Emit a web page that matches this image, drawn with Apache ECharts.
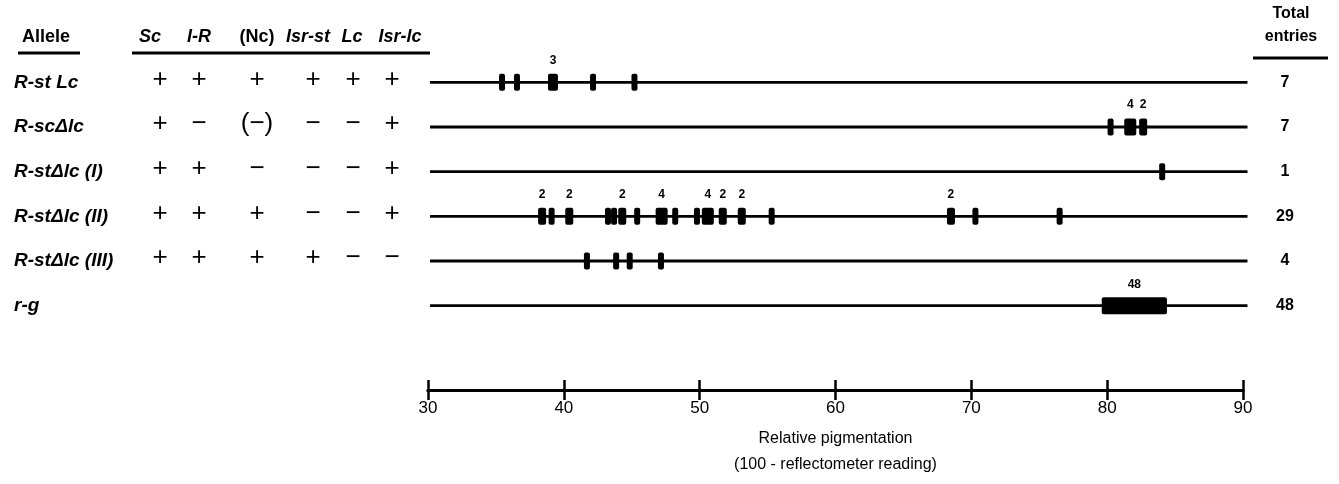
<!DOCTYPE html>
<html>
<head>
<meta charset="utf-8">
<script src="https://cdn.jsdelivr.net/npm/echarts@6/dist/echarts.min.js"></script>
<style>
  html, body { margin: 0; padding: 0; background: #fff; }
  #main { width: 1339px; height: 484px; }
</style>
</head>
<body>
<div id="main"></div>
<script>
// rows, top to bottom
var alleles = ['R-st Lc', 'R-sc\u0394lc', 'R-st\u0394lc (I)', 'R-st\u0394lc (II)', 'R-st\u0394lc (III)', 'r-g'];
var totals = ['7', '7', '1', '29', '4', '48'];

// table of components
var components = ['Sc', 'I-R', '(Nc)', 'Isr-st', 'Lc', 'Isr-lc'];
var componentItalic = [true, true, false, true, true, true];
var M = '\u2212';
var signs = [
  ['+', '+', '+', '+', '+', '+'],
  ['+', M, '(' + M + ')', M, M, '+'],
  ['+', '+', M, M, M, '+'],
  ['+', '+', '+', M, M, '+'],
  ['+', '+', '+', '+', M, M],
  []
];

// pigmentation of the entries: [value, number of entries]
var rowStLc = [[35.45, 1], [36.55, 1], [39.2, 3], [42.15, 1], [45.2, 1]];
var rowScDlc = [[80.25, 1], [81.7, 4], [82.65, 2]];
var rowStDlcI = [[84.05, 1]];
var rowStDlcII = [[38.4, 2], [39.1, 1], [40.4, 2], [43.25, 1], [43.7, 1], [44.3, 2], [45.4, 1],
  [47.2, 4], [48.2, 1], [49.8, 1], [50.6, 4], [51.7, 2], [53.1, 2], [55.3, 1],
  [68.5, 2], [70.3, 1], [76.5, 1]];
var rowStDlcIII = [[41.7, 1], [43.85, 1], [44.85, 1], [47.15, 1]];
// r-g: one block [from, to, entries]
var rowRg = [79.6, 84.4, 48];

var xMin = 30, xMax = 90, xStep = 10;

var FONT = 'Liberation Sans';
var lineFrom = 30.15, lineTo = 90.33;   // row line extent
var colX = [160, 199, 257, 313, 353, 392];
var headX = [150, 199, 257, 308, 352, 400];

var markRows = [rowStLc, rowScDlc, rowStDlcI, rowStDlcII, rowStDlcIII, []];
var markData = [];
markRows.forEach(function (row, r) {
  row.forEach(function (m) { markData.push([m[0], r, m[1]]); });
});
var lineData = alleles.map(function (a, i) { return [lineFrom, i]; });

function renderLine(params, api) {
  var a = api.coord([api.value(0), api.value(1)]);
  var b = api.coord([lineTo, api.value(1)]);
  return {
    type: 'line',
    shape: { x1: a[0], y1: a[1], x2: b[0], y2: b[1] },
    style: { stroke: '#000', lineWidth: 2.8 }
  };
}

function renderMark(params, api) {
  var p = api.coord([api.value(0), api.value(1)]);
  var n = api.value(2);
  var w = 4 + 2 * n, h = 17;
  var kids = [{
    type: 'rect',
    shape: { x: p[0] - w / 2, y: p[1] - h / 2, width: w, height: h, r: 2 },
    style: { fill: '#000' }
  }];
  if (n > 1) {
    kids.push({
      type: 'text', x: p[0], y: p[1] - 22,
      style: { text: String(n), fill: '#000', fontSize: 12, fontWeight: 'bold', fontFamily: FONT,
        align: 'center', verticalAlign: 'middle' }
    });
  }
  return { type: 'group', children: kids };
}

function renderBlock(params, api) {
  var a = api.coord([api.value(0), api.value(1)]);
  var b = api.coord([api.value(2), api.value(1)]);
  var h = 17;
  return {
    type: 'group',
    children: [{
      type: 'rect',
      shape: { x: a[0], y: a[1] - h / 2, width: b[0] - a[0], height: h, r: 2 },
      style: { fill: '#000' }
    }, {
      type: 'text', x: (a[0] + b[0]) / 2, y: a[1] - 21,
      style: { text: String(api.value(3)), fill: '#000', fontSize: 12, fontWeight: 'bold', fontFamily: FONT,
        align: 'center', verticalAlign: 'middle' }
    }]
  };
}

var chart = echarts.init(document.getElementById('main'));

var axisBase = {
  type: 'value', min: xMin, max: xMax, interval: xStep,
  position: 'bottom', offset: 62,
  axisLine: { show: true, lineStyle: { color: '#000', width: 3 } },
  splitLine: { show: false }
};

var option = {
  animation: false,
  backgroundColor: '#fff',
  textStyle: { fontFamily: FONT },
  grid: { left: 428, right: 96, top: 60, height: 268 },
  xAxis: [
    Object.assign({}, axisBase, {
      axisTick: { show: true, length: 10, lineStyle: { color: '#000', width: 2.5 } },
      axisLabel: { color: '#000', fontSize: 17, margin: 10, fontFamily: FONT },
      name: 'Relative pigmentation\n(100 - reflectometer reading)',
      nameLocation: 'middle', nameGap: 36,
      nameTextStyle: { color: '#000', fontSize: 16, lineHeight: 26, fontFamily: FONT }
    }),
    Object.assign({}, axisBase, {
      axisTick: { show: true, inside: true, length: 10, lineStyle: { color: '#000', width: 2.5 } },
      axisLabel: { show: false }
    })
  ],
  yAxis: [{
    type: 'category', data: alleles, inverse: true,
    axisLine: { show: false }, axisTick: { show: false },
    axisLabel: { align: 'left', margin: 414, color: '#000', fontSize: 19, fontWeight: 'bold',
      fontStyle: 'italic', fontFamily: FONT, padding: [0, 0, 6, 0] }
  }, {
    type: 'category', data: totals, inverse: true, position: 'right',
    axisLine: { show: false }, axisTick: { show: false },
    axisLabel: { align: 'center', margin: 42, color: '#000', fontSize: 16, fontWeight: 'bold', fontFamily: FONT }
  }],
  series: [
    { type: 'custom', renderItem: renderLine, data: lineData, z: 1 },
    { type: 'custom', renderItem: renderMark, data: markData, z: 2 },
    { type: 'custom', renderItem: renderBlock, data: [[rowRg[0], 5, rowRg[1], rowRg[2]]], z: 2 }
  ]
};
chart.setOption(option);

// table on the left, placed on the rows of the y axis
var g = [];
function txt(x, y, s, size, weight, italic, align) {
  g.push({
    type: 'text', x: x, y: y,
    style: { text: s, fill: '#000', fontSize: size, fontWeight: weight, fontStyle: italic ? 'italic' : 'normal',
      fontFamily: FONT, align: align || 'center', verticalAlign: 'middle' }
  });
}
function rule(x1, x2, y) {
  g.push({ type: 'line', shape: { x1: x1, y1: y, x2: x2, y2: y }, style: { stroke: '#000', lineWidth: 3 } });
}

txt(22, 37, 'Allele', 18, 'bold', false, 'left');
rule(18, 80, 53);
components.forEach(function (c, i) { txt(headX[i], 37, c, 18, 'bold', componentItalic[i]); });
rule(132, 430, 53);
txt(1291, 14, 'Total', 16, 'bold', false);
txt(1291, 37, 'entries', 16, 'bold', false);
rule(1253, 1328, 58);

signs.forEach(function (row, r) {
  var y = chart.convertToPixel({ yAxisIndex: 0 }, r) - 3;
  row.forEach(function (s, c) { txt(colX[c], y, s, 26, 'normal', false); });
});

chart.setOption({ graphic: g });
</script>
</body>
</html>
